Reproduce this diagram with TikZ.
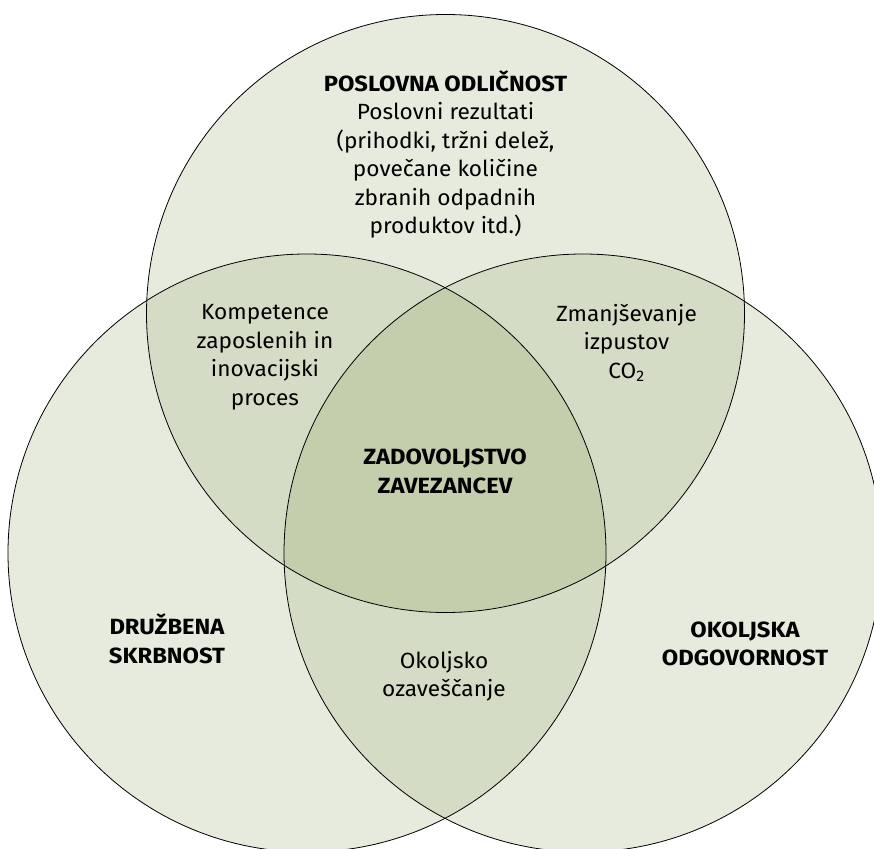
\documentclass[tikz,border=0pt]{standalone}
\usepackage{fontspec}
\setmainfont{Fira Sans}[FakeStretch=1.03,BoldFeatures={FakeStretch=1.08}]
\definecolor{cone}{HTML}{E7EBDE}
\definecolor{ctwo}{HTML}{D5DCC5}
\definecolor{cthree}{HTML}{C2CEAC}
\begin{document}
\begin{tikzpicture}[x=1pt,y=-1pt,
  lbl/.style={align=center,inner sep=0pt,font=\fontsize{22}{28.5}\selectfont},
  ttl/.style={align=center,inner sep=0pt,font=\fontsize{22}{28.5}\selectfont\bfseries},
  ring/.style={draw=black,line width=0.8pt}]
\useasboundingbox (0,0) rectangle (874,848);
\coordinate (T) at (445.5,313.5);
\coordinate (L) at (307,553);
\coordinate (Rc) at (583,553);
\begin{scope}
\clip (0,0) rectangle (874,848);
\fill[cone] (T) circle[radius=299pt];
\fill[cone] (L) circle[radius=299pt];
\fill[cone] (Rc) circle[radius=299pt];
\begin{scope}
\clip (T) circle[radius=299pt];
\fill[ctwo] (L) circle[radius=299pt];
\fill[ctwo] (Rc) circle[radius=299pt];
\end{scope}
\begin{scope}
\clip (L) circle[radius=299pt];
\fill[ctwo] (Rc) circle[radius=299pt];
\end{scope}
\begin{scope}
\clip (T) circle[radius=299pt];
\clip (L) circle[radius=299pt];
\fill[cthree] (Rc) circle[radius=299pt];
\end{scope}
\draw[ring] (T) circle[radius=299pt];
\draw[ring] (L) circle[radius=299pt];
\draw[ring] (Rc) circle[radius=299pt];
\end{scope}
\node[lbl] (top) at (445.5,154.5) {\textbf{POSLOVNA ODLIČNOST}\\Poslovni rezultati\\(prihodki, tržni delež,\\povečane količine\\zbranih odpadnih\\produktov itd.)};
\node[lbl] (tl) at (265,357.5) {Kompetence\\zaposlenih in\\inovacijski\\proces};
\node[lbl] (tr) at (626.5,343) {Zmanjševanje\\izpustov\\CO\textsubscript{2}};
\node[ttl] (mid) at (445,471.5) {ZADOVOLJSTVO\\ZAVEZANCEV};
\node[ttl] (left) at (167,639) {DRUŽBENA\\SKRBNOST};
\node[lbl] (bot) at (444,676) {Okoljsko\\ozaveščanje};
\node[ttl] (right) at (745,644) {OKOLJSKA\\ODGOVORNOST};
\end{tikzpicture}
\end{document}
